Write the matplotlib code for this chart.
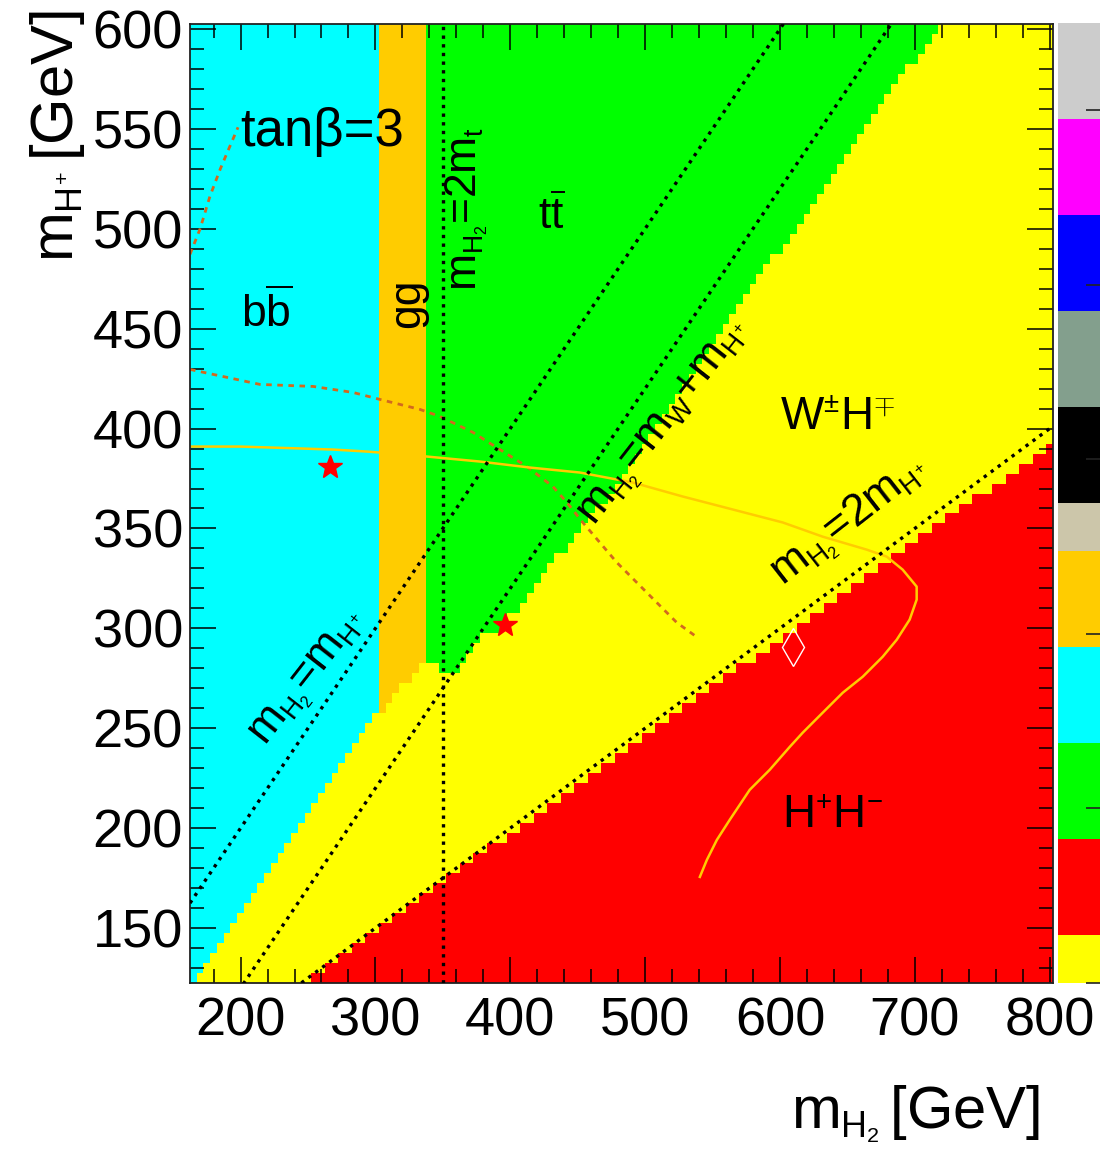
import numpy as np
import matplotlib
matplotlib.use("Agg")
import matplotlib.pyplot as plt
import matplotlib._mathtext as _mt
from matplotlib.colors import ListedColormap, BoundaryNorm
from matplotlib.cm import ScalarMappable
from matplotlib.ticker import MultipleLocator

plt.rcParams['font.family'] = ['Liberation Sans', 'DejaVu Sans']
plt.rcParams['mathtext.fontset'] = 'custom'
plt.rcParams['mathtext.rm'] = 'Liberation Sans'
plt.rcParams['mathtext.it'] = 'Liberation Sans'
plt.rcParams['mathtext.sf'] = 'Liberation Sans'
plt.rcParams['mathtext.bf'] = 'Liberation Sans:bold'
# smaller sub/superscripts, TLatex style
_mt.SHRINK_FACTOR = 0.6

# ---- scan grid (GeV) ----
x_range = (162.5, 802.5)   # m_H2
y_range = (122.5, 602.5)   # m_H+
bin_width = 5.0

m_W = 80.0
m_t = 175.0

# ---- dominant decay channel colour scale ----
channel_colors = ['#ffff00', '#ff0000', '#00ff00', '#00ffff', '#ffcc00',
                  '#ccc6aa', '#000000', '#839f8d', '#0000ff', '#ff00ff', '#cccccc']
z_bounds = [0.0, 0.275, 0.825, 1.375, 1.925, 2.475, 2.75, 3.30, 3.85, 4.40, 4.95, 5.50]
z_ticks = [0, 1, 2, 3, 4, 5]
z_WH, z_HH, z_tt, z_bb, z_gg = [0.5 * (z_bounds[i] + z_bounds[i + 1]) for i in range(5)]

# H+H- dominant below this edge (m_H+ vs m_H2)
hh_edge_x = [162.5, 802.5]
hh_edge_y = [82.0, 393.0]
# lower edge of the bb / gg / tt dominated area
top_edge_x = [162.5, 282.5, 302.5, 337.5, 347.5, 352.5, 362.5, 372.5, 396.0,
              433.0, 450.0, 489.0, 558.0, 718.5, 802.5]
top_edge_y = [122.0, 239.0, 258.0, 283.0, 283.0, 276.0, 278.0, 292.0, 302.0,
              334.0, 346.0, 383.0, 450.0, 602.5, 680.0]
bb_gg_split = 302.5
gg_tt_split = 337.5

# ---- contours ----
dash_short_x = [162.5, 170.0, 177.3, 185.0, 190.0, 198.1]
dash_short_y = [487.2, 500.0, 516.3, 530.0, 538.0, 550.8]

dash_long_x = [162.5, 214.4, 253.7, 283.3, 303.3, 333.0, 347.8, 372.3, 392.3, 412.3,
               431.6, 442.0, 453.8, 466.4, 479.0, 493.9, 508.7, 523.5, 539.1]
dash_long_y = [429.6, 422.1, 421.1, 418.1, 414.6, 409.6, 406.1, 398.1, 389.5, 381.0,
               371.0, 363.0, 353.0, 343.0, 333.0, 322.9, 312.9, 302.9, 295.3]

solid_x = [162.5, 199.6, 246.3, 268.5, 293.7, 303.3, 338.2, 377.5, 414.5, 451.6,
           490.9, 527.9, 565.0, 602.1, 631.7, 664.4, 679.2, 691.0, 701.4, 701.4,
           696.2, 686.6, 676.2, 661.4, 646.6, 631.7, 616.9, 607.3, 592.4, 577.6,
           562.8, 553.2, 545.8, 540.6]
solid_y = [391.0, 391.0, 390.0, 389.5, 388.5, 388.0, 386.0, 383.5, 380.5, 378.0,
           373.0, 366.0, 359.5, 353.0, 345.9, 339.4, 335.9, 329.4, 320.9, 314.4,
           304.4, 294.3, 285.8, 275.8, 267.8, 257.8, 247.8, 240.7, 229.2, 219.2,
           204.2, 194.1, 184.1, 175.6]

# ---- benchmark points ----
star_x = [266.3, 396.0]
star_y = [381.0, 301.9]
diamond_x = [609.5]
diamond_y = [290.7]

# ---- build the 2D map ----
xe = np.arange(x_range[0], x_range[1] + 0.1, bin_width)
ye = np.arange(y_range[0], y_range[1] + 0.1, bin_width)
xc = 0.5 * (xe[1:] + xe[:-1])
yc = 0.5 * (ye[1:] + ye[:-1])
X, Y = np.meshgrid(xc, yc)
lower = np.interp(X, top_edge_x, top_edge_y)
hh = np.interp(X, hh_edge_x, hh_edge_y)
Z = np.full(X.shape, z_WH)
above = Y > lower
Z[above & (X < bb_gg_split)] = z_bb
Z[above & (X > bb_gg_split) & (X < gg_tt_split)] = z_gg
Z[above & (X > gg_tt_split)] = z_tt
Z[Y < hh] = z_HH

cmap = ListedColormap(channel_colors)
norm = BoundaryNorm(z_bounds, cmap.N)

W, H = 1100, 1154
fig = plt.figure(figsize=(W / 100, H / 100), dpi=100)
ax = fig.add_axes([190 / W, 1 - 983 / H, (1053 - 190) / W, (983 - 24) / H])
ax.pcolormesh(xe, ye, Z, cmap=cmap, norm=norm, shading='flat', zorder=0)

# kinematic thresholds
xl = np.array(x_range)
dot = dict(color='black', lw=2.4, ls=(0, (1, 1.6)), dash_capstyle='butt', zorder=3)
ax.plot(xl, xl, **dot)                 # m_H2 = m_H+
ax.plot(xl, xl - m_W, **dot)           # m_H2 = m_W + m_H+
ax.plot(xl, xl / 2.0, **dot)           # m_H2 = 2 m_H+
ax.plot([2 * m_t, 2 * m_t], y_range, **dot)  # m_H2 = 2 m_t

# contours
ax.plot(dash_short_x, dash_short_y, color='#d2691e', lw=2.0, ls=(0, (2.0, 2.0)), zorder=2)
ax.plot(dash_long_x, dash_long_y, color='#d2691e', lw=2.0, ls=(0, (2.0, 2.0)), zorder=2)
ax.plot(solid_x, solid_y, color='#ffcc00', lw=1.8, zorder=2)

# benchmark points
ax.plot(star_x, star_y, ls='none', marker='*', ms=18, color='#ff0000', mec='#ff0000', zorder=4)
ax.plot(diamond_x, diamond_y, ls='none', marker='d', ms=19, mfc='none', mec='white', mew=1.0, zorder=4)

# labels
ax.text(199.6, 541.3, 'tanβ=3', fontsize=38, ha='left', va='baseline', zorder=5)
ax.text(200.0, 451.0, r'b$\overline{\mathrm{b}}$', fontsize=32, ha='left', va='baseline', zorder=5)
ax.text(324.0, 462.6, 'gg', fontsize=32, rotation=90, rotation_mode='anchor',
        ha='center', va='center', zorder=5)
ax.text(375.0, 509.8, r'$m_{H_{2}}$=2$m_{t}$', fontsize=32, rotation=90, rotation_mode='anchor',
        ha='center', va='baseline', zorder=5)
ax.text(420.5, 499.7, r't$\overline{\mathrm{t}}$', fontsize=32, ha='left', va='baseline', zorder=5)
ax.text(218.1, 240.9, r'$m_{H_{2}}$=$m_{H^{+}}$', fontsize=32, rotation=52, rotation_mode='anchor',
        ha='left', va='baseline', zorder=5)
ax.text(462.7, 351.1, r'$m_{H_{2}}$=$m_{W}$+$m_{H^{+}}$', fontsize=32, rotation=52,
        rotation_mode='anchor', ha='left', va='baseline', zorder=5)
ax.text(602.1, 321.0, r'$m_{H_{2}}$=2$m_{H^{+}}$', fontsize=32, rotation=38,
        rotation_mode='anchor', ha='left', va='baseline', zorder=5)
ax.text(599.9, 399.5, r'W$^{\pm}$H$^{\mp}$', fontsize=33, ha='left', va='baseline', zorder=5)
ax.text(601.3, 200.2, r'H$^{+}$H$^{-}$', fontsize=33, ha='left', va='baseline', zorder=5)

ax.set_xlim(*x_range)
ax.set_ylim(*y_range)
ax.xaxis.set_major_locator(MultipleLocator(100))
ax.xaxis.set_minor_locator(MultipleLocator(20))
ax.yaxis.set_major_locator(MultipleLocator(50))
ax.yaxis.set_minor_locator(MultipleLocator(10))
ax.tick_params(which='both', direction='in', top=True, right=True, width=1.1, color='black')
ax.tick_params(which='major', length=19)
ax.tick_params(which='minor', length=10)
ax.tick_params(axis='x', labelsize=39, pad=10)
ax.tick_params(axis='y', labelsize=39, pad=5)
for s in ax.spines.values():
    s.set_linewidth(1.3)
    s.set_color('#222222')

fig.text(1040 / W, 1 - 1128 / H, r'$m_{H_{2}}\,$[GeV]', fontsize=43, ha='right', va='baseline')
fig.text(73 / W, 1 - 10 / H, r'$m_{H^{+}}\,$[GeV]', fontsize=43, rotation=90,
         rotation_mode='anchor', ha='right', va='baseline')

# palette
cax = fig.add_axes([1058 / W, 1 - 983 / H, 47 / W, (983 - 23) / H])
cb = fig.colorbar(ScalarMappable(norm=norm, cmap=cmap), cax=cax,
                  boundaries=z_bounds, spacing='proportional', ticks=z_ticks)
cb.outline.set_visible(False)
cax.tick_params(axis='y', direction='in', length=14, width=1.2, color='#222222', labelright=False)

fig.savefig('out.png', dpi=100)
